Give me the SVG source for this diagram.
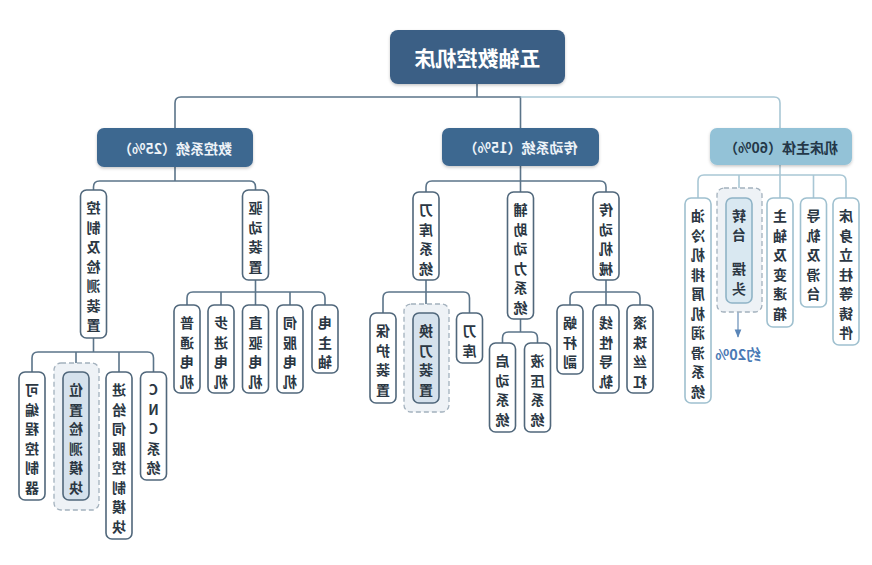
<svg xmlns="http://www.w3.org/2000/svg" width="872" height="565" viewBox="0 0 872 565">
<defs>
<filter id="sh" x="-10%" y="-20%" width="120%" height="150%"><feDropShadow dx="0" dy="1.5" stdDeviation="1.5" flood-color="#000" flood-opacity="0.22"/></filter>
<marker id="ar" viewBox="0 0 10 10" refX="9" refY="5" markerWidth="6" markerHeight="6" orient="auto"><path d="M0,1 L10,5 L0,9 z" fill="#5a86b8"/></marker>
</defs>
<style>
text{font-family:"Noto Sans CJK SC","Noto Sans",sans-serif;text-anchor:middle;dominant-baseline:central;transform-box:fill-box;transform-origin:center;transform:scaleX(-1);}
.root{fill:#3b5f85;filter:url(#sh);}
.rootT{fill:#ffffff;font-size:21px;font-weight:700;}
.hd{fill:#3e6790;filter:url(#sh);}
.hdT{fill:#eef3f8;font-size:14px;font-weight:700;}
.hl{fill:#93c2d7;filter:url(#sh);}
.hlT{fill:#233748;font-size:14px;font-weight:700;}
.bd{fill:#ffffff;stroke:#50677b;stroke-width:1.6;}
.bdh{fill:#d5e1ec;stroke:#50677b;stroke-width:1.6;}
.bl{fill:#ffffff;stroke:#9fc0cf;stroke-width:1.6;}
.blh{fill:#d9e8f1;stroke:#8fb3c6;stroke-width:1.6;}
.t{fill:#2b3743;font-size:14px;font-weight:600;}
.dash{fill:#eef2f6;stroke:#a3b1bd;stroke-width:1.3;stroke-dasharray:5 3;}
.cd{fill:none;stroke:#5b7489;stroke-width:1.6;}
.cl{fill:none;stroke:#a9c7d5;stroke-width:1.6;}
.pct{fill:#4a7ab5;font-size:14.5px;font-weight:700;}
</style>

<g id="connectors">
<path class="cd" d="M477,84 V97"/>
<path class="cd" d="M175,128 V103 Q175,97 181,97 H520.5 V128"/>
<path class="cl" d="M520.5,97 H774 Q780,97 780,103 V128"/>
<path class="cd" d="M175,167 V181"/>
<path class="cd" d="M93.5,190 V187 Q93.5,181 99.5,181 H249.5 Q255.5,181 255.5,187 V190"/>
<path class="cd" d="M93.5,338 V352"/>
<path class="cd" d="M32,372 V358 Q32,352 38,352 H147.5 Q153.5,352 153.5,358 V372"/>
<path class="cd" d="M76,352 V372 M119,352 V372"/>
<path class="cd" d="M255.5,280 V305"/>
<path class="cd" d="M187,305 V298 Q187,292 193,292 H319 Q325,292 325,298 V305"/>
<path class="cd" d="M221,292 V305 M290,292 V305"/>
<path class="cd" d="M520.5,166 V192"/>
<path class="cd" d="M426,192 V187 Q426,181 432,181 H600 Q606,181 606,187 V192"/>
<path class="cd" d="M426,280 V313"/>
<path class="cd" d="M383,313 V298 Q383,292 389,292 H463.5 Q469.5,292 469.5,298 V313"/>
<path class="cd" d="M520.5,319 V332"/>
<path class="cd" d="M502.5,343 V338 Q502.5,332 508.5,332 H531.5 Q537.5,332 537.5,338 V343"/>
<path class="cd" d="M606,280 V305"/>
<path class="cd" d="M570,305 V298 Q570,292 576,292 H634 Q640,292 640,298 V305"/>
<path class="cl" d="M780,165 V198"/>
<path class="cl" d="M698,198 V181 Q698,175 704,175 H840 Q846,175 846,181 V198"/>
<path class="cl" d="M739,175 V188 M813.5,175 V198"/>
<path d="M738,312 V337" fill="none" stroke="#7e9fc2" stroke-width="1.4" marker-end="url(#ar)"/>
</g>

<g id="dashed-frames">
<rect class="dash" x="54" y="363" width="45" height="147" rx="7"/>
<rect class="dash" x="404" y="304" width="45" height="108" rx="7"/>
<rect class="dash" x="717" y="188" width="45" height="124" rx="7"/>
</g>

<g id="root"><rect class="root" x="390" y="30" width="175" height="54" rx="8"/><text class="rootT" x="477.5" y="57">五轴数控机床</text></g>

<g id="h-cnc"><rect class="hd" x="97" y="128" width="156" height="39" rx="7"/><text class="hdT" x="175" y="147.5">数控系统（25%）</text></g>
<g id="h-trans"><rect class="hd" x="442" y="128" width="157" height="38" rx="7"/><text class="hdT" x="520.5" y="147">传动系统（15%）</text></g>
<g id="h-body"><rect class="hl" x="710" y="128" width="142" height="37" rx="7"/><text class="hlT" x="781" y="146.5">机床主体（60%）</text></g>

<g id="n-kz"><rect class="bd" x="80.5" y="190" width="26" height="148" rx="6"/><text class="t"><tspan x="93.5" y="207">控</tspan><tspan x="93.5" y="226.5">制</tspan><tspan x="93.5" y="246">及</tspan><tspan x="93.5" y="265.5">检</tspan><tspan x="93.5" y="285">测</tspan><tspan x="93.5" y="304.5">装</tspan><tspan x="93.5" y="324">置</tspan></text></g>
<g id="n-qd"><rect class="bd" x="242.5" y="190" width="26" height="90" rx="6"/><text class="t"><tspan x="255.5" y="207">驱</tspan><tspan x="255.5" y="226.5">动</tspan><tspan x="255.5" y="246">装</tspan><tspan x="255.5" y="265.5">置</tspan></text></g>
<g id="n-kb"><rect class="bd" x="19" y="372" width="26" height="128" rx="6"/><text class="t"><tspan x="32" y="389">可</tspan><tspan x="32" y="408.5">编</tspan><tspan x="32" y="428">程</tspan><tspan x="32" y="447.5">控</tspan><tspan x="32" y="467">制</tspan><tspan x="32" y="486.5">器</tspan></text></g>
<g id="n-wz"><rect class="bdh" x="63" y="372" width="26" height="128" rx="6"/><text class="t"><tspan x="76" y="389">位</tspan><tspan x="76" y="408.5">置</tspan><tspan x="76" y="428">检</tspan><tspan x="76" y="447.5">测</tspan><tspan x="76" y="467">模</tspan><tspan x="76" y="486.5">块</tspan></text></g>
<g id="n-jg"><rect class="bd" x="106" y="372" width="26" height="167" rx="6"/><text class="t"><tspan x="119" y="389">进</tspan><tspan x="119" y="408.5">给</tspan><tspan x="119" y="428">伺</tspan><tspan x="119" y="447.5">服</tspan><tspan x="119" y="467">控</tspan><tspan x="119" y="486.5">制</tspan><tspan x="119" y="506">模</tspan><tspan x="119" y="525.5">块</tspan></text></g>
<g id="n-cnc"><rect class="bd" x="140.5" y="372" width="26" height="108" rx="6"/><text class="t"><tspan x="153.5" y="389">C</tspan><tspan x="153.5" y="408.5">N</tspan><tspan x="153.5" y="428">C</tspan><tspan x="153.5" y="447.5">系</tspan><tspan x="153.5" y="467">统</tspan></text></g>
<g id="n-pt"><rect class="bd" x="174" y="305" width="26" height="88" rx="6"/><text class="t"><tspan x="187" y="322">普</tspan><tspan x="187" y="341.5">通</tspan><tspan x="187" y="361">电</tspan><tspan x="187" y="380.5">机</tspan></text></g>
<g id="n-bj"><rect class="bd" x="208" y="305" width="26" height="88" rx="6"/><text class="t"><tspan x="221" y="322">步</tspan><tspan x="221" y="341.5">进</tspan><tspan x="221" y="361">电</tspan><tspan x="221" y="380.5">机</tspan></text></g>
<g id="n-zq"><rect class="bd" x="242.5" y="305" width="26" height="88" rx="6"/><text class="t"><tspan x="255.5" y="322">直</tspan><tspan x="255.5" y="341.5">驱</tspan><tspan x="255.5" y="361">电</tspan><tspan x="255.5" y="380.5">机</tspan></text></g>
<g id="n-sf"><rect class="bd" x="277" y="305" width="26" height="88" rx="6"/><text class="t"><tspan x="290" y="322">伺</tspan><tspan x="290" y="341.5">服</tspan><tspan x="290" y="361">电</tspan><tspan x="290" y="380.5">机</tspan></text></g>
<g id="n-dzz"><rect class="bd" x="312" y="305" width="26" height="68" rx="6"/><text class="t"><tspan x="325" y="322">电</tspan><tspan x="325" y="341.5">主</tspan><tspan x="325" y="361">轴</tspan></text></g>

<g id="n-dkxt"><rect class="bd" x="413" y="192" width="26" height="88" rx="6"/><text class="t"><tspan x="426" y="209">刀</tspan><tspan x="426" y="228.5">库</tspan><tspan x="426" y="248">系</tspan><tspan x="426" y="267.5">统</tspan></text></g>
<g id="n-fz"><rect class="bd" x="507.5" y="192" width="26" height="127" rx="6"/><text class="t"><tspan x="520.5" y="209">辅</tspan><tspan x="520.5" y="228.5">助</tspan><tspan x="520.5" y="248">动</tspan><tspan x="520.5" y="267.5">力</tspan><tspan x="520.5" y="287">系</tspan><tspan x="520.5" y="306.5">统</tspan></text></g>
<g id="n-cdjx"><rect class="bd" x="593" y="192" width="26" height="88" rx="6"/><text class="t"><tspan x="606" y="209">传</tspan><tspan x="606" y="228.5">动</tspan><tspan x="606" y="248">机</tspan><tspan x="606" y="267.5">械</tspan></text></g>
<g id="n-bh"><rect class="bd" x="370" y="313" width="26" height="90" rx="6"/><text class="t"><tspan x="383" y="330">保</tspan><tspan x="383" y="349.5">护</tspan><tspan x="383" y="369">装</tspan><tspan x="383" y="388.5">置</tspan></text></g>
<g id="n-hd"><rect class="bdh" x="413" y="313" width="26" height="90" rx="6"/><text class="t"><tspan x="426" y="330">换</tspan><tspan x="426" y="349.5">刀</tspan><tspan x="426" y="369">装</tspan><tspan x="426" y="388.5">置</tspan></text></g>
<g id="n-dk"><rect class="bd" x="456.5" y="313" width="26" height="50" rx="6"/><text class="t"><tspan x="469.5" y="330">刀</tspan><tspan x="469.5" y="349.5">库</tspan></text></g>
<g id="n-qdxt"><rect class="bd" x="489.5" y="343" width="26" height="89" rx="6"/><text class="t"><tspan x="502.5" y="360">启</tspan><tspan x="502.5" y="379.5">动</tspan><tspan x="502.5" y="399">系</tspan><tspan x="502.5" y="418.5">统</tspan></text></g>
<g id="n-yy"><rect class="bd" x="524.5" y="343" width="26" height="89" rx="6"/><text class="t"><tspan x="537.5" y="360">液</tspan><tspan x="537.5" y="379.5">压</tspan><tspan x="537.5" y="399">系</tspan><tspan x="537.5" y="418.5">统</tspan></text></g>
<g id="n-wg"><rect class="bd" x="557" y="305" width="26" height="69" rx="6"/><text class="t"><tspan x="570" y="322">蜗</tspan><tspan x="570" y="341.5">杆</tspan><tspan x="570" y="361">副</tspan></text></g>
<g id="n-xx"><rect class="bd" x="593" y="305" width="26" height="88" rx="6"/><text class="t"><tspan x="606" y="322">线</tspan><tspan x="606" y="341.5">性</tspan><tspan x="606" y="361">导</tspan><tspan x="606" y="380.5">轨</tspan></text></g>
<g id="n-gz"><rect class="bd" x="627" y="305" width="26" height="88" rx="6"/><text class="t"><tspan x="640" y="322">滚</tspan><tspan x="640" y="341.5">珠</tspan><tspan x="640" y="361">丝</tspan><tspan x="640" y="380.5">杠</tspan></text></g>

<g id="n-ylj"><rect class="bl" x="685" y="198" width="26" height="205" rx="6"/><text class="t"><tspan x="698" y="215">油</tspan><tspan x="698" y="234.5">冷</tspan><tspan x="698" y="254">机</tspan><tspan x="698" y="273.5">排</tspan><tspan x="698" y="293">屑</tspan><tspan x="698" y="312.5">机</tspan><tspan x="698" y="332">润</tspan><tspan x="698" y="351.5">滑</tspan><tspan x="698" y="371">系</tspan><tspan x="698" y="390.5">统</tspan></text></g>
<g id="n-zt"><rect class="blh" x="726" y="198" width="26" height="105" rx="6"/><text class="t"><tspan x="739" y="215">转</tspan><tspan x="739" y="234">台</tspan><tspan x="739" y="268">摆</tspan><tspan x="739" y="288">头</tspan></text></g>
<g id="n-zz"><rect class="bl" x="767" y="198" width="26" height="129" rx="6"/><text class="t"><tspan x="780" y="215">主</tspan><tspan x="780" y="234.5">轴</tspan><tspan x="780" y="254">及</tspan><tspan x="780" y="273.5">变</tspan><tspan x="780" y="293">速</tspan><tspan x="780" y="312.5">箱</tspan></text></g>
<g id="n-dg"><rect class="bl" x="800.5" y="198" width="26" height="109" rx="6"/><text class="t"><tspan x="813.5" y="215">导</tspan><tspan x="813.5" y="234.5">轨</tspan><tspan x="813.5" y="254">及</tspan><tspan x="813.5" y="273.5">滑</tspan><tspan x="813.5" y="293">台</tspan></text></g>
<g id="n-cs"><rect class="bl" x="833" y="198" width="26" height="147" rx="6"/><text class="t"><tspan x="846" y="215">床</tspan><tspan x="846" y="234.5">身</tspan><tspan x="846" y="254">立</tspan><tspan x="846" y="273.5">柱</tspan><tspan x="846" y="293">等</tspan><tspan x="846" y="312.5">铸</tspan><tspan x="846" y="332">件</tspan></text></g>

<g id="label-20"><text class="pct" x="738" y="353">约20%</text></g>
</svg>
